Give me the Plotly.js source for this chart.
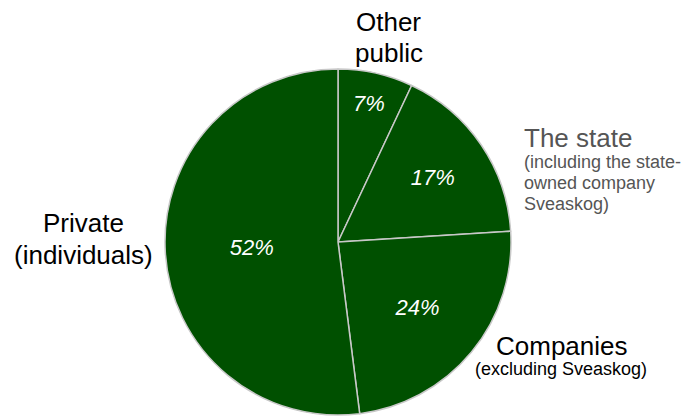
<!DOCTYPE html>
<html><head><meta charset="utf-8">
<script src="https://cdn.plot.ly/plotly-3.0.1.min.js"></script>
<style>html,body{margin:0;padding:0;background:#fff}#c{width:687px;height:419px}</style>
</head><body><div id="c"></div>
<script>
const categories = ["Other public", "The state", "Companies", "Private (individuals)"];
const shares = [7, 17, 24, 52];

const W = 687, H = 419;
const px = x => x / W, py = y => 1 - y / H;
const F = "Liberation Sans, Arial, sans-serif";

function ann(text, x, y, size, color, anchor) {
  return {text: text, x: px(x), y: py(y), xref: 'paper', yref: 'paper', showarrow: false,
    xanchor: anchor || 'center', yanchor: 'middle', font: {family: F, size: size, color: color}};
}

const annotations = [
  ann("Other", 389, 22, 26, '#000'),
  ann("public", 389, 53, 26, '#000'),
  ann("The state", 522, 138, 26, '#555', 'left'),
  ann("(including the state-", 522, 162, 18, '#555', 'left'),
  ann("owned company", 522, 183, 18, '#555', 'left'),
  ann("Sveaskog)", 522, 204, 18, '#555', 'left'),
  ann("Companies", 562, 346, 26, '#000'),
  ann("(excluding Sveaskog)", 561, 369, 18, '#000'),
  ann("Private", 83, 223, 26, '#000'),
  ann("(individuals)", 83, 255, 26, '#000')
];

const cx = 338, cy = 242, r = 173;
const data = [{
  type: 'pie',
  labels: categories,
  values: shares,
  sort: false,
  direction: 'clockwise',
  rotation: 0,
  texttemplate: '%{value}%',
  textposition: 'inside',
  insidetextorientation: 'horizontal',
  textfont: {family: F, size: 22, color: '#fff', style: 'italic'},
  marker: {colors: ['#005000', '#005000', '#005000', '#005000'], line: {color: '#c8c8c8', width: 1.5}},
  domain: {x: [px(cx - r), px(cx + r)], y: [py(cy + r), py(cy - r)]},
  hoverinfo: 'none'
}];

Plotly.newPlot('c', data, {
  width: W, height: H, margin: {l: 0, r: 0, t: 0, b: 0},
  showlegend: false, paper_bgcolor: '#fff',
  annotations: annotations
}, {displayModeBar: false, staticPlot: true});
</script></body></html>
